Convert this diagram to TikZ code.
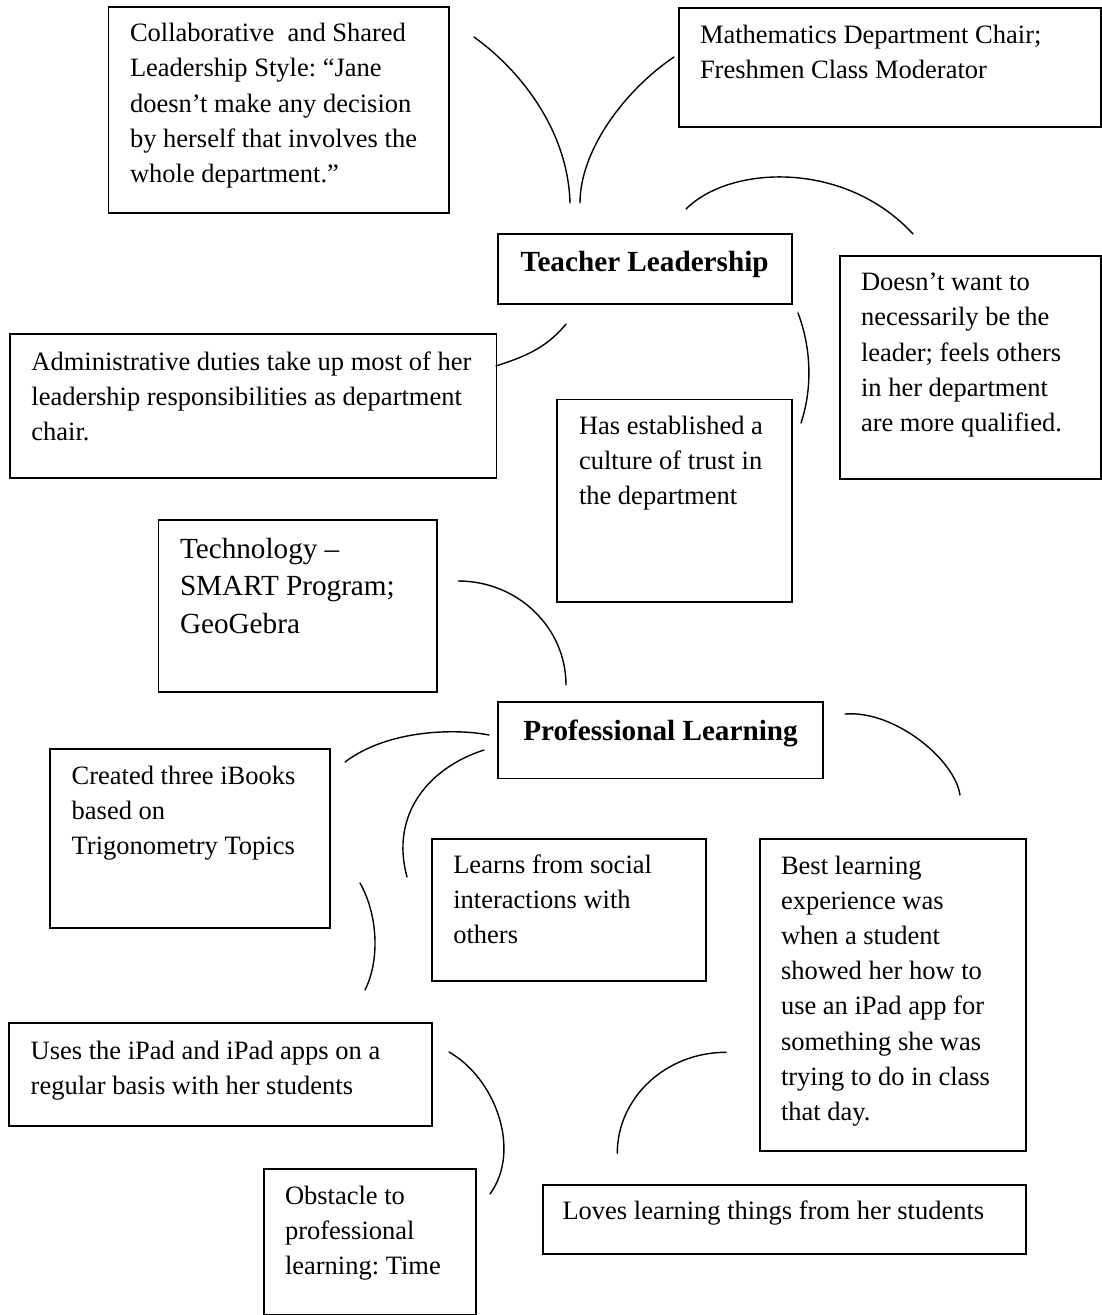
\documentclass[tikz,border=0pt]{standalone}
\usepackage{fontspec}
\setmainfont{Liberation Serif}
\frenchspacing

% Text box: name, font, left, top, right, bottom, text left, first baseline, text
\newcommand{\mapbox}[9]{%
  \node[mapbox, font=#2, anchor=north west] (#1) at (#3,#4)
    {\hspace*{\dimexpr#7pt-#3pt\relax}%
     \parbox[t][\dimexpr#6pt-#4pt\relax][t]{\dimexpr#5pt-#7pt\relax}%
       {\raggedright\rule{0pt}{\dimexpr#8pt-#4pt\relax}#9}};%
}

\tikzset{
  mapbox/.style={draw=black, line width=1.8pt, inner sep=0pt, outer sep=0pt, fill=white},
  link/.style={draw=black, line width=1.4pt, line cap=round},
}

\newcommand{\bodyfont}{\fontsize{26.5}{35.2}\selectfont}
\newcommand{\headfont}{\fontsize{29.2}{37.5}\selectfont\bfseries}
\newcommand{\techfont}{\fontsize{29.2}{37.5}\selectfont}

\begin{document}
\begin{tikzpicture}[x=1pt, y=-1pt]
\useasboundingbox[fill=white] (0,0) rectangle (1102,1315);

% ---- Teacher Leadership cluster ----
\mapbox{collab}{\bodyfont}{108.4}{6.7}{449}{213.3}{130}{41.7}%
  {Collaborative\ \ and Shared\\Leadership Style: “Jane\\doesn’t make any decision\\by herself that involves the\\whole department.”}
\mapbox{chair}{\bodyfont}{679.3}{8.3}{1101}{126.7}{700}{43.3}%
  {Mathematics Department Chair;\\Freshmen Class Moderator}
\mapbox{tl}{\headfont}{498}{234}{792}{304}{520.7}{271.7}%
  {Teacher Leadership}
\mapbox{notlead}{\bodyfont}{839.6}{255.7}{1100.7}{479}{861}{290.7}%
  {Doesn’t want to\\necessarily be the\\leader; feels others\\in her department\\are more qualified.}
\mapbox{admin}{\bodyfont}{9.6}{334}{496.4}{478.3}{31.4}{370}%
  {Administrative duties take up most of her\\leadership responsibilities as department\\chair.}
\mapbox{trust}{\bodyfont}{557.3}{399.5}{792}{602.3}{579}{434}%
  {Has established a\\culture of trust in\\the department}

% ---- Professional Learning cluster ----
\mapbox{tech}{\techfont}{158.5}{520}{436.7}{691.7}{180}{558.3}%
  {Technology –\\SMART Program;\\GeoGebra}
\mapbox{pl}{\headfont}{497.7}{702.3}{823.3}{778.5}{523.3}{740}%
  {Professional Learning}
\mapbox{ibooks}{\bodyfont}{50.3}{749.3}{330}{928.3}{71.7}{784.3}%
  {Created three iBooks\\based on\\Trigonometry Topics}
\mapbox{social}{\bodyfont}{431.7}{839}{705.7}{980.7}{453.3}{873.3}%
  {Learns from social\\interactions with\\others}
\mapbox{best}{\bodyfont}{760}{839}{1026}{1150.7}{781}{874}%
  {Best learning\\experience was\\when a student\\showed her how to\\use an iPad app for\\something she was\\trying to do in class\\that day.}
\mapbox{ipad}{\bodyfont}{9.3}{1023.3}{432.3}{1125.7}{30.7}{1059.3}%
  {Uses the iPad and iPad apps on a\\regular basis with her students}
\mapbox{time}{\bodyfont}{264.3}{1169.3}{475.7}{1315}{285}{1204}%
  {Obstacle to\\professional\\learning: Time}
\mapbox{loves}{\bodyfont}{542.7}{1185}{1026}{1254}{562.5}{1219}%
  {Loves learning things from her students}

% ---- curved links (free-floating arcs between the boxes) ----
\coordinate (c1a) at (474,37);    \coordinate (c1b) at (570,203);
\coordinate (c2a) at (674,57);    \coordinate (c2b) at (580,203);
\coordinate (c3a) at (686,209);   \coordinate (c3b) at (913,234);
\coordinate (c4a) at (566,324);   \coordinate (c4b) at (496,366);
\coordinate (c5a) at (798,313);   \coordinate (c5b) at (801,423);
\coordinate (c6a) at (458.3,581); \coordinate (c6b) at (566,685);
\coordinate (c7a) at (489,735);   \coordinate (c7b) at (345,762);
\coordinate (c8a) at (484,750);   \coordinate (c8b) at (407,877);
\coordinate (c9a) at (845,714);   \coordinate (c9b) at (960,795);
\coordinate (c10a) at (360,883);  \coordinate (c10b) at (365,990);
\coordinate (c11a) at (449,1052); \coordinate (c11b) at (490,1194);
\coordinate (c12a) at (726,1052.3); \coordinate (c12b) at (617.3,1153.3);

\draw[link] (c1a) .. controls (520,70) and (568,130) .. (c1b);
\draw[link] (c2a) .. controls (625,90) and (580,150) .. (c2b);
\draw[link] (c3a) .. controls (730,165) and (845,160) .. (c3b);
\draw[link] (c4a) .. controls (545,350) and (520,358) .. (c4b);
\draw[link] (c5a) .. controls (812,350) and (812,390) .. (c5b);
\draw[link] (c6a) .. controls (517.8,581) and (566,627.6) .. (c6b);
\draw[link] (c7a) .. controls (460,729) and (390,728) .. (c7b);
\draw[link] (c8a) .. controls (428,768) and (390,815) .. (c8b);
\draw[link] (c9a) .. controls (895,710) and (955,760) .. (c9b);
\draw[link] (c10a) .. controls (378,915) and (380,960) .. (c10b);
\draw[link] (c11a) .. controls (495,1078) and (522,1150) .. (c11b);
\draw[link] (c12a) .. controls (666,1052.3) and (617.3,1097.5) .. (c12b);
\end{tikzpicture}
\end{document}
